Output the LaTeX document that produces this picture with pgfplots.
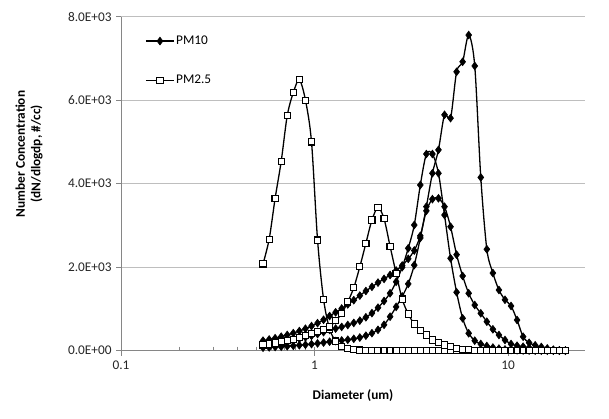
\documentclass[border=0pt]{standalone}
\usepackage{fontspec}
\setmainfont{Carlito}
\usepackage{pgfplots}
\usepackage{pgfplotstable}
\pgfplotsset{compat=1.18}
\pgfplotstableread{
x d1 d2 d3 s1 s2
0.542 150 240 72 2080 140
0.583 167 268 80 2670 160
0.626 186 300 88 3650 185
0.673 207 336 97 4540 210
0.723 231 376 107 5630 240
0.777 258 421 118 6180 273
0.835 287 471 130 6490 320
0.898 320 527 143 6000 370
0.965 357 590 158 5000 420
1.037 398 660 175 2650 465
1.114 444 740 195 1230 510
1.197 496 830 216 520 570
1.286 530 920 230 230 720
1.382 570 1010 245 100 890
1.486 615 1110 262 57 1170
1.596 665 1210 285 30 1510
1.715 720 1320 315 15 2010
1.843 800 1430 360 8 2570
1.981 900 1530 420 4 3130
2.129 1030 1630 500 2 3430
2.288 1190 1720 620 1 3160
2.458 1375 1813 815 0 2500
2.642 1650 1920 1050 0 1850
2.839 2000 2040 1300 0 1235
3.051 2452 2200 1600 0 880
3.278 3010 2400 2050 0 640
3.523 3969 2750 2700 0 480
3.786 4711 3350 3450 0 376
4.068 4711 3630 4250 0 256
4.371 4250 3650 4810 0 195
4.698 3250 3449 5650 0 136
5.048 2213 2970 5570 0 96
5.425 1400 2300 6680 0 57
5.829 776 1790 6920 0 34
6.264 417 1375 7560 0 20
6.732 240 1094 6820 0 10
7.234 160 896 4150 0 5
7.774 112 695 2430 0 2
8.354 75 512 1860 0 1
8.977 50 376 1454 0 0
9.647 30 256 1220 0 0
10.37 18 160 1071 0 0
11.14 10 120 735 0 0
11.97 6 96 335 0 0
12.86 3 72 190 0 0
13.82 2 40 130 0 0
14.86 1 20 90 0 0
15.96 0 10 55 0 0
17.15 0 5 25 0 0
18.43 0 2 10 0 0
19.81 0 1 5 0 0
}\datatable
\definecolor{axisgray}{RGB}{134,134,134}
\definecolor{gridgray}{RGB}{190,190,190}
\begin{document}
\begin{tikzpicture}
\useasboundingbox (0pt,0pt) rectangle (609pt,419pt);
\begin{axis}[
  at={(121pt,68.3pt)}, anchor=south west,
  scale only axis, width=464pt, height=334pt,
  xmode=log, xmin=0.1, xmax=25, ymin=0, ymax=8000,
  axis x line*=bottom, axis y line*=left,
  axis line style={axisgray, line width=0.8pt},
  every tick/.style={axisgray, line width=0.8pt},
  xtick={0.1,1,10}, xticklabels={0.1,1,10},
  ytick={0,2000,4000,6000,8000},
  yticklabels={0.0E+00,2.0E+03,4.0E+03,6.0E+03,8.0E+03},
  tick align=outside, major tick length=5pt, minor tick length=-4pt,
  xminorticks=true,
  ymajorgrids, major grid style={gridgray, line width=0.8pt},
  ticklabel style={font=\fontsize{13.3}{15}\selectfont, text=black!85},
  xticklabel style={yshift=-2pt},
  yticklabel style={xshift=-1pt},
  xlabel={Diameter (um)},
  ylabel={Number Concentration\\(dN/dlogdp, \#/cc)},
  label style={font=\bfseries\fontsize{13.3}{15.5}\selectfont, text=black},
  xlabel style={at={(axis description cs:0.5,-0.135)}, anchor=center},
  ylabel style={at={(axis description cs:-0.198,0.589)}, anchor=center, rotate=0, align=center},
  legend style={draw=none, fill=none, at={(axis description cs:0.052,0.8684)}, anchor=west,
    font=\fontsize{13.3}{15}\selectfont, row sep=26pt, inner sep=0pt,
    nodes={inner sep=1.5pt}},
  legend cell align=left,
  legend image code/.code={\draw[#1, mark repeat=2, mark phase=2] plot coordinates {(0pt,0pt) (14pt,0pt) (28pt,0pt)};},
  every axis plot/.append style={black, line width=1.3pt, smooth, tension=0.5},
]
\addplot[mark=diamond*, mark size=3.9pt, mark options={fill=black, line width=0.6pt}] table[x=x, y=d1] {\datatable};
\addlegendentry{PM10}
\addplot[forget plot, mark=diamond*, mark size=3.9pt, mark options={fill=black, line width=0.6pt}] table[x=x, y=d2] {\datatable};
\addplot[forget plot, mark=diamond*, mark size=3.9pt, mark options={fill=black, line width=0.6pt}] table[x=x, y=d3] {\datatable};
\addplot[mark=square*, mark size=3.1pt, mark options={fill=white, line width=1.1pt}] table[x=x, y=s1] {\datatable};
\addlegendentry{PM2.5}
\addplot[forget plot, mark=square*, mark size=3.1pt, mark options={fill=white, line width=1.1pt}] table[x=x, y=s2] {\datatable};
\end{axis}
\end{tikzpicture}
\end{document}
